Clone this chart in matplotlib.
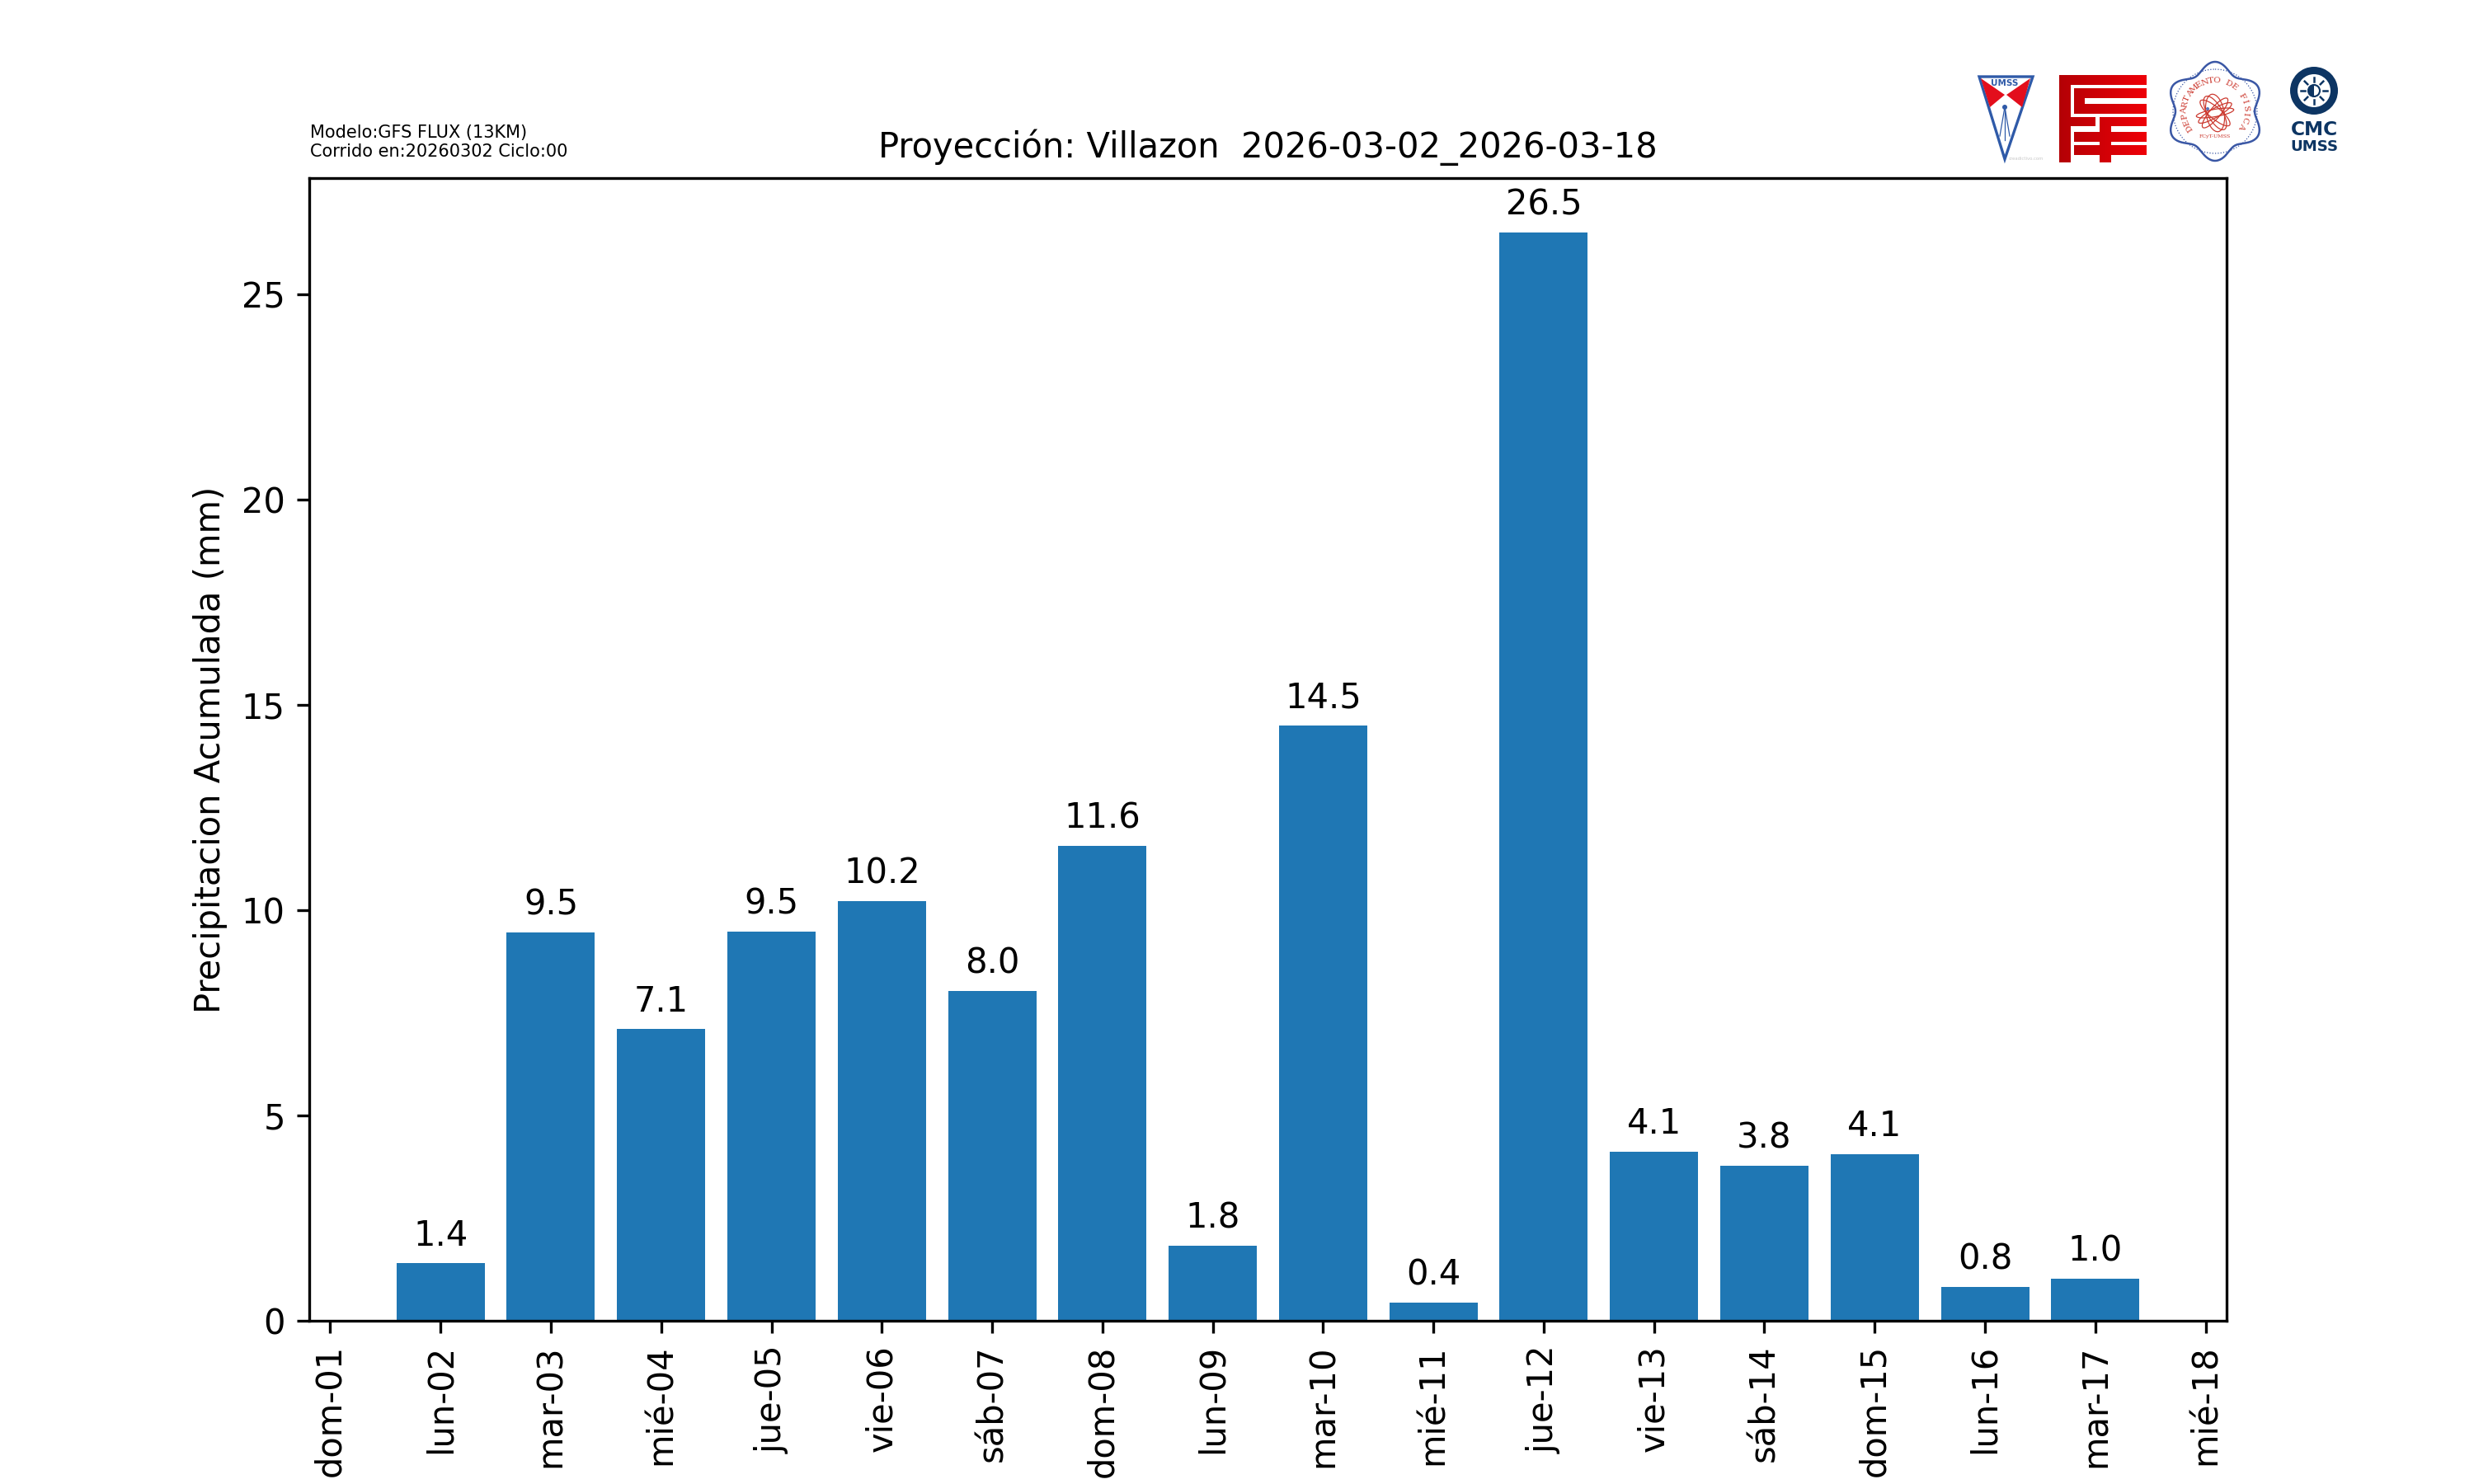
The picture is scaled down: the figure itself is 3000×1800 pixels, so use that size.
import numpy as np
import matplotlib
matplotlib.use('Agg')
import matplotlib.pyplot as plt
from matplotlib.patches import Polygon, Circle, Wedge, Ellipse
from matplotlib.path import Path
from matplotlib.patches import PathPatch

dias = ['dom-01', 'lun-02', 'mar-03', 'mié-04', 'jue-05', 'vie-06', 'sáb-07', 'dom-08', 'lun-09',
        'mar-10', 'mié-11', 'jue-12', 'vie-13', 'sáb-14', 'dom-15', 'lun-16', 'mar-17', 'mié-18']
dias_barras = [1, 2, 3, 4, 5, 6, 7, 8, 9, 10, 11, 12, 13, 14, 15, 16]
precip = [1.4, 9.45, 7.1, 9.48, 10.22, 8.04, 11.56, 1.82, 14.5, 0.44, 26.5, 4.12, 3.77, 4.06, 0.82, 1.03]
etiquetas = ['1.4', '9.5', '7.1', '9.5', '10.2', '8.0', '11.6', '1.8', '14.5', '0.4', '26.5', '4.1', '3.8', '4.1', '0.8', '1.0']

fig, ax = plt.subplots(figsize=(10, 6), dpi=300)

bars = ax.bar(dias_barras, precip, width=0.8, color='#1f77b4')
for b, t in zip(bars, etiquetas):
    ax.annotate(t, (b.get_x() + b.get_width() / 2, b.get_height()), xytext=(0, 3),
                textcoords='offset points', ha='center', va='bottom', fontsize=10)

ax.set_xlim(-0.19, 17.19)
ax.set_ylim(0, 27.83)
ax.set_xticks(range(len(dias)))
ax.set_xticklabels(dias, rotation=90)
ax.set_ylabel('Precipitacion Acumulada (mm)')
ax.set_title('Proyección: Villazon  2026-03-02_2026-03-18', fontsize=10)
fig.text(0.1252, 0.892, 'Modelo:GFS FLUX (13KM)\nCorrido en:20260302 Ciclo:00', fontsize=5, va='bottom', ha='left')


# logos, dibujados a mano en un eje sin marco con coordenadas en pixeles
lg = fig.add_axes([0, 0, 1, 1], zorder=5)
lg.set_xlim(0, 3000)
lg.set_ylim(1800, 0)
lg.axis('off')

# UMSS
lg.add_patch(Polygon([(2400, 93), (2465, 93), (2431, 193)], fc='white', ec='#2f5aa8', lw=0.8))
lg.add_patch(Polygon([(2402, 95), (2431, 115), (2413, 130)], fc='#e30e1c', ec='none'))
lg.add_patch(Polygon([(2462, 95), (2433, 115), (2452, 130)], fc='#e30e1c', ec='none'))
lg.text(2431, 101, 'UMSS', fontsize=2.5, color='#2f5aa8', fontweight='bold', ha='center', va='center')
lg.plot([2431, 2425], [130, 165], color='#2f5aa8', lw=0.3)
lg.plot([2431, 2437], [130, 165], color='#2f5aa8', lw=0.3)
lg.plot([2431, 2431], [130, 170], color='#2f5aa8', lw=0.3)
lg.add_patch(Circle((2431, 130), 3, fc='#2f5aa8', ec='none'))
lg.text(2457, 193, 'creadictivo.com', fontsize=1.3, color='#c8c8c8', ha='center', va='center')

# FCyT
rects = [(2497, 91, 14, 106), (2497, 91, 106, 12), (2515, 107, 88, 12), (2515, 107, 13, 30),
         (2515, 126, 88, 12), (2497, 142, 44, 11), (2560, 142, 43, 11), (2515, 160, 88, 12),
         (2515, 176, 88, 12), (2546, 142, 14, 55)]
clip = PathPatch(Path.make_compound_path(*[Path([(x, y), (x + w, y), (x + w, y + h), (x, y + h), (x, y)])
                                           for x, y, w, h in rects]), fc='none', ec='none')
lg.add_patch(clip)
grad = lg.imshow(np.linspace(0, 1, 64).reshape(1, -1), extent=(2497, 2603, 197, 91), aspect='auto',
                 cmap=matplotlib.colors.LinearSegmentedColormap.from_list('rj', ['#b40005', '#ee0008']))
grad.set_clip_path(clip)
lg.set_xlim(0, 3000)
lg.set_ylim(1800, 0)

# Departamento de Fisica
t = np.linspace(0, 2 * np.pi, 300)
rad = 54 + 6 * np.cos(6 * t + np.pi)
lg.plot(2686 + rad * np.cos(t), 135 + rad * np.sin(t), color='#3a57a5', lw=0.6)
lg.add_patch(Circle((2686, 135), 51, fc='none', ec='#3a57a5', lw=0.3, ls=':'))
for ang in [-50, -30, -10]:
    lg.add_patch(Ellipse((2686, 137), 46, 24 + ang / 5, angle=ang + 90, fc='none', ec='#cc3a30', lw=0.3))
    lg.add_patch(Ellipse((2686, 137), 46, 8 - ang / 10, angle=ang, fc='none', ec='#cc3a30', lw=0.3))
lg.add_patch(Circle((2677, 132), 2, fc='#5a72b5', ec='none'))
letras = 'DEPARTAMENTO DE FÍSICA'
for i, c in enumerate(letras):
    a = np.deg2rad(147 + i * 241 / (len(letras) - 1))
    lg.text(2686 + 37 * np.cos(a), 135 + 37 * np.sin(a), c, fontsize=2.5, color='#cc3a30',
            family='DejaVu Serif', rotation=-np.rad2deg(a) - 90, ha='center', va='center',
            rotation_mode='anchor')
lg.text(2686, 165, 'FCyT-UMSS', fontsize=1.5, color='#cc3a30', family='DejaVu Serif',
        ha='center', va='center')

# CMC
azul = '#0d3563'
lg.add_patch(Wedge((2806, 110), 29, 0, 360, width=9, fc=azul, ec='none'))
lg.add_patch(Circle((2806, 110), 7, fc='none', ec=azul, lw=0.5))
lg.add_patch(Wedge((2806, 110), 7, 90, 270, fc=azul, ec='none'))
for a in np.arange(0, 360, 45):
    ca, sa = np.cos(np.deg2rad(a)), np.sin(np.deg2rad(a))
    lg.plot([2806 + 11 * ca, 2806 + 16 * ca], [110 + 11 * sa, 110 + 16 * sa], color=azul, lw=0.6)
lg.text(2806, 157, 'CMC', fontsize=5.6, color=azul, fontweight='bold', ha='center', va='center')
lg.text(2806, 178, 'UMSS', fontsize=4.4, color=azul, fontweight='bold', ha='center', va='center')

fig.savefig('out.png', dpi=300)
